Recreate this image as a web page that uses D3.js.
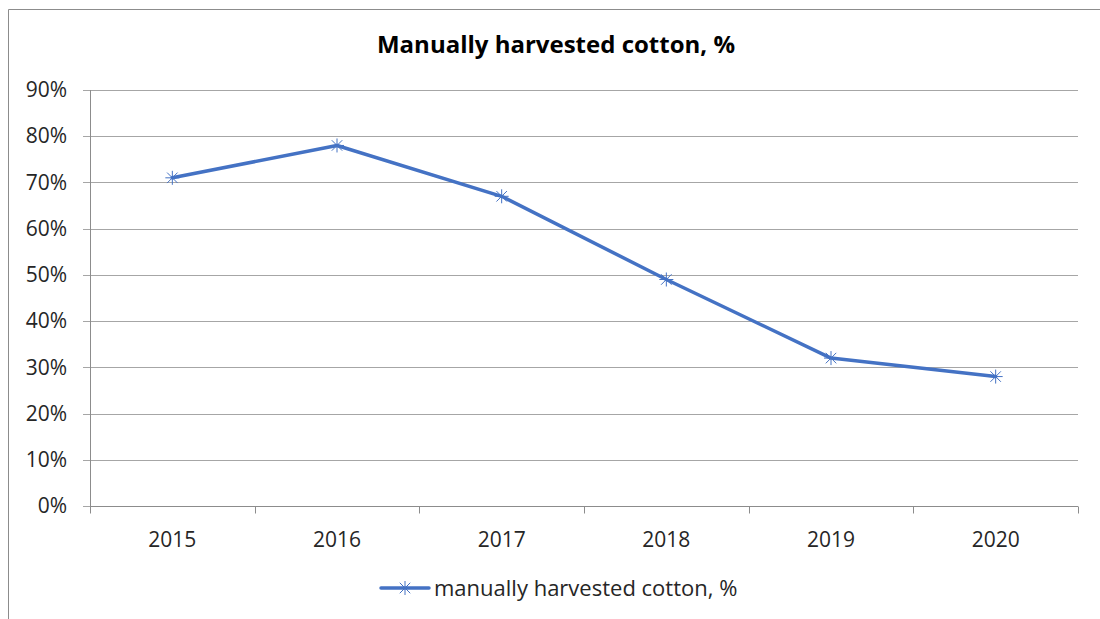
<!DOCTYPE html>
<html>
<head>
<meta charset="utf-8">
<script src="https://cdn.jsdelivr.net/npm/d3@7"></script>
<style>
  body { margin: 0; background: #fff; }
  svg { font-family: 'Open Sans', 'Noto Sans', sans-serif; }
</style>
</head>
<body>
<svg width="1100" height="619"></svg>
<script>
// Data
const years = ['2015', '2016', '2017', '2018', '2019', '2020']
const harvested = [71, 78, 67, 49, 32, 28]
const yTicks = [0, 10, 20, 30, 40, 50, 60, 70, 80, 90]
const seriesName = 'manually harvested cotton, %'

const svg = d3.select('svg')
const margin = {top: 90, right: 22, bottom: 113, left: 90}
const width = 1100 - margin.left - margin.right
const height = 619 - margin.top - margin.bottom
const blue = '#4472c4'
const textCol = '#262626'

// outer frame (only the top and left edges fall inside the picture)
svg.append('path')
  .attr('d', 'M8.5,640 V9.5 H1110')
  .attr('fill', 'none')
  .attr('stroke', '#8c8c8c')
  .attr('stroke-width', 1)

svg.append('text')
  .attr('x', 556)
  .attr('y', 53)
  .attr('text-anchor', 'middle')
  .attr('font-size', 24)
  .attr('font-weight', 'bold')
  .attr('fill', '#000')
  .text('Manually harvested cotton, %')

const g = svg.append('g').attr('transform', `translate(${margin.left},${margin.top})`)

const x = d3.scaleBand().domain(years).range([0, width])
const y = d3.scaleLinear().domain([0, 90]).range([height, 0])

// gridlines
g.append('g')
  .selectAll('line')
  .data(yTicks)
  .join('line')
  .attr('x1', -7)
  .attr('x2', width)
  .attr('y1', d => Math.round(y(d)) + 0.5)
  .attr('y2', d => Math.round(y(d)) + 0.5)
  .attr('stroke', '#a6a6a6')
  .attr('stroke-width', 1)

// y axis
const yAxis = g.append('g')
  .call(d3.axisLeft(y).tickValues(yTicks).tickFormat(d => d + '%').tickSize(0).tickPadding(23))
yAxis.select('.domain').remove()
yAxis.selectAll('text').attr('font-size', 21).attr('fill', textCol)
  .attr('font-family', "'Open Sans', 'Noto Sans', sans-serif")

// left axis line
g.append('line')
  .attr('x1', 0.5).attr('x2', 0.5)
  .attr('y1', 0).attr('y2', height + 7)
  .attr('stroke', '#8c8c8c')

// x axis with ticks at category boundaries
const xAxis = g.append('g').attr('transform', `translate(0,${Math.round(height) + 0.5})`)
xAxis.append('line').attr('x1', 0).attr('x2', width).attr('stroke', '#8c8c8c')
xAxis.selectAll('.bound')
  .data(d3.range(years.length + 1))
  .join('line')
  .attr('class', 'bound')
  .attr('x1', i => Math.round(i * x.step()) + 0.5)
  .attr('x2', i => Math.round(i * x.step()) + 0.5)
  .attr('y1', 0).attr('y2', 7)
  .attr('stroke', '#8c8c8c')
xAxis.selectAll('.lab')
  .data(years)
  .join('text')
  .attr('class', 'lab')
  .attr('x', d => x(d) + x.bandwidth() / 2)
  .attr('y', 40)
  .attr('text-anchor', 'middle')
  .attr('font-size', 21)
  .attr('fill', textCol)
  .text(d => d)

// series line
const pts = years.map((yr, i) => [x(yr) + x.bandwidth() / 2, y(harvested[i])])
g.append('path')
  .datum(pts)
  .attr('d', d3.line())
  .attr('fill', 'none')
  .attr('stroke', blue)
  .attr('stroke-width', 3.5)
  .attr('stroke-linejoin', 'round')
  .attr('stroke-linecap', 'round')

// star markers
function star(sel, cx, cy, r) {
  const d = `M${cx - r},${cy}H${cx + r}M${cx},${cy - r}V${cy + r}` +
    `M${cx - r * 0.75},${cy - r * 0.75}L${cx + r * 0.75},${cy + r * 0.75}` +
    `M${cx - r * 0.75},${cy + r * 0.75}L${cx + r * 0.75},${cy - r * 0.75}`
  sel.append('path').attr('d', d).attr('stroke', blue).attr('stroke-width', 1).attr('fill', 'none')
}
pts.forEach(p => star(g, p[0], p[1], 7))

// legend
const lg = svg.append('g').attr('transform', 'translate(381,588)')
lg.append('line').attr('x1', 0).attr('x2', 48).attr('stroke', blue).attr('stroke-width', 3.5).attr('stroke-linecap', 'round')
star(lg, 24, 0, 7)
lg.append('text')
  .attr('x', 53)
  .attr('y', 8)
  .attr('font-size', 22)
  .attr('fill', textCol)
  .text(seriesName)
</script>
</body>
</html>
